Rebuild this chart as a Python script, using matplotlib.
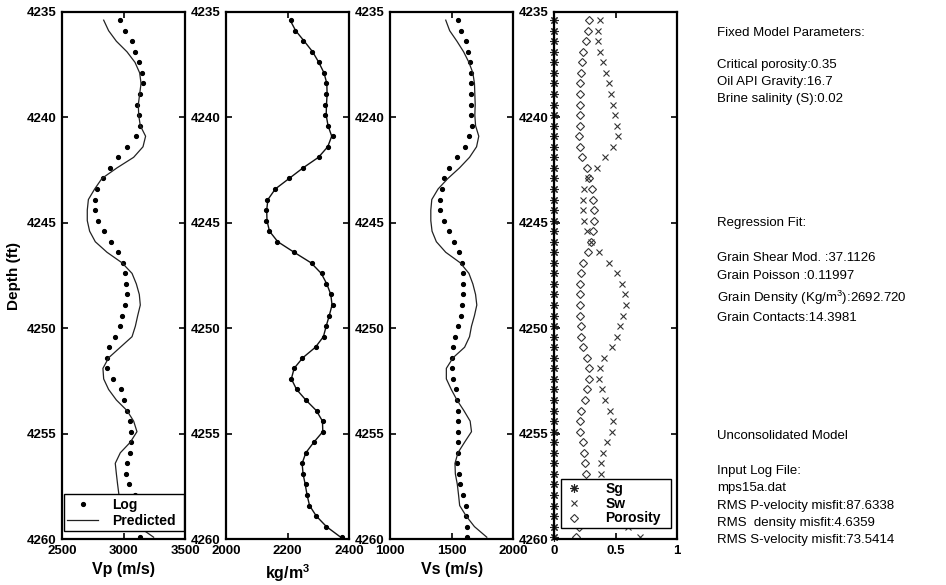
import matplotlib
matplotlib.use("Agg")
import matplotlib.pyplot as plt

plt.rcParams["font.family"] = ["Liberation Sans", "DejaVu Sans"]
plt.rcParams["mathtext.fontset"] = "custom"
plt.rcParams["mathtext.rm"] = "Liberation Sans"
plt.rcParams["mathtext.bf"] = "Liberation Sans:bold"

# depth samples (ft)
depth = [4235.4, 4235.9, 4236.4, 4236.9, 4237.4, 4237.9, 4238.4, 4238.9, 4239.4, 4239.9,
         4240.4, 4240.9, 4241.4, 4241.9, 4242.4, 4242.9, 4243.4, 4243.9, 4244.4, 4244.9,
         4245.4, 4245.9, 4246.4, 4246.9, 4247.4, 4247.9, 4248.4, 4248.9, 4249.4, 4249.9,
         4250.4, 4250.9, 4251.4, 4251.9, 4252.4, 4252.9, 4253.4, 4253.9, 4254.4, 4254.9,
         4255.4, 4255.9, 4256.4, 4256.9, 4257.4, 4257.9, 4258.4, 4258.9, 4259.4, 4259.9]

vp_log = [2968, 3008, 3068, 3089, 3122, 3146, 3154, 3130, 3111, 3122,
          3132, 3097, 3027, 2954, 2892, 2830, 2787, 2765, 2765, 2795,
          2843, 2900, 2954, 2995, 3011, 3019, 3024, 3011, 2989, 2970,
          2932, 2884, 2862, 2865, 2916, 2981, 3003, 3027, 3051, 3060,
          3060, 3051, 3030, 3022, 3041, 3089, 3100, 3110, 3118, 3133]
vp_pred = [2838, 2878, 2941, 3027, 3092, 3130, 3141, 3130, 3119, 3122,
           3135, 3178, 3157, 3081, 2946, 2824, 2765, 2714, 2705, 2705,
           2724, 2770, 2865, 2987, 3068, 3103, 3127, 3135, 3114, 3095,
           3068, 2973, 2878, 2832, 2838, 2878, 2941, 3027, 3081, 3108,
           3054, 2973, 2932, 2941, 2951, 2962, 2973, 3014, 3120, 3243]

rho_log = [2211, 2224, 2251, 2280, 2303, 2317, 2325, 2326, 2321, 2321,
           2330, 2346, 2332, 2303, 2249, 2203, 2158, 2133, 2131, 2131,
           2139, 2165, 2219, 2279, 2311, 2326, 2342, 2346, 2333, 2324,
           2318, 2292, 2248, 2219, 2210, 2230, 2258, 2295, 2316, 2316,
           2286, 2258, 2245, 2251, 2258, 2264, 2270, 2292, 2324, 2375]
rho_pred = [2208, 2226, 2254, 2281, 2301, 2318, 2327, 2328, 2326, 2325,
            2331, 2343, 2330, 2300, 2250, 2205, 2160, 2136, 2132, 2133,
            2141, 2168, 2221, 2276, 2309, 2327, 2340, 2344, 2335, 2325,
            2316, 2290, 2249, 2221, 2212, 2229, 2259, 2293, 2313, 2314,
            2285, 2259, 2247, 2250, 2257, 2263, 2271, 2293, 2326, 2372]

vs_log = [1551, 1578, 1616, 1632, 1645, 1653, 1656, 1656, 1656, 1656,
          1664, 1642, 1610, 1546, 1481, 1441, 1425, 1409, 1409, 1441,
          1481, 1521, 1559, 1586, 1591, 1594, 1594, 1583, 1578, 1554,
          1530, 1513, 1503, 1505, 1513, 1532, 1543, 1551, 1554, 1551,
          1551, 1548, 1546, 1559, 1565, 1591, 1616, 1616, 1621, 1624]
vs_pred = [1452, 1484, 1543, 1597, 1640, 1672, 1685, 1688, 1691, 1688,
           1694, 1720, 1702, 1645, 1564, 1470, 1390, 1339, 1331, 1331,
           1341, 1376, 1452, 1570, 1640, 1672, 1694, 1704, 1685, 1661,
           1645, 1605, 1511, 1457, 1457, 1497, 1543, 1599, 1650, 1661,
           1605, 1551, 1527, 1530, 1546, 1556, 1565, 1618, 1685, 1785]

sg = [0.0] * 50
sw = [0.376, 0.359, 0.359, 0.376, 0.400, 0.424, 0.449, 0.465, 0.481, 0.497,
      0.514, 0.522, 0.481, 0.416, 0.346, 0.278, 0.246, 0.232, 0.232, 0.241,
      0.265, 0.300, 0.368, 0.449, 0.514, 0.551, 0.576, 0.584, 0.559, 0.535,
      0.511, 0.470, 0.408, 0.376, 0.368, 0.389, 0.416, 0.454, 0.478, 0.473,
      0.432, 0.400, 0.384, 0.381, 0.400, 0.430, 0.480, 0.540, 0.600, 0.700]
porosity = [0.284, 0.273, 0.257, 0.238, 0.224, 0.216, 0.211, 0.211, 0.211, 0.211,
            0.211, 0.205, 0.211, 0.227, 0.268, 0.286, 0.305, 0.319, 0.327, 0.324,
            0.319, 0.303, 0.276, 0.232, 0.216, 0.211, 0.211, 0.211, 0.211, 0.216,
            0.216, 0.232, 0.265, 0.281, 0.284, 0.268, 0.249, 0.222, 0.214, 0.214,
            0.232, 0.246, 0.254, 0.257, 0.250, 0.240, 0.230, 0.220, 0.200, 0.176]

depth_ticks = [4235, 4240, 4245, 4250, 4255, 4260]

info_lines = [
    (33, "Fixed Model Parameters:"),
    (65, "Critical porosity:0.35"),
    (82, "Oil API Gravity:16.7"),
    (99, "Brine salinity (S):0.02"),
    (223, "Regression Fit:"),
    (258, "Grain Shear Mod. :37.1126"),
    (276, "Grain Poisson :0.11997"),
    (298, "Grain Density (Kg/m$^3$):2692.720"),
    (318, "Grain Contacts:14.3981"),
    (436, "Unconsolidated Model"),
    (471, "Input Log File:"),
    (488, "mps15a.dat"),
    (506, "RMS P-velocity misfit:87.6338"),
    (523, "RMS  density misfit:4.6359"),
    (540, "RMS S-velocity misfit:73.5414"),
]

W, H = 946, 585
fig = plt.figure(figsize=(W / 100, H / 100), dpi=100)

lefts = [62, 226, 390, 554]
ax_w = 123.3
ax_top, ax_bot = 11.7, 539.3
axes = []
for lx in lefts:
    ax = fig.add_axes([lx / W, 1 - ax_bot / H, ax_w / W, (ax_bot - ax_top) / H])
    axes.append(ax)


def style(ax, xlim, xticks, xlabels, xlabel):
    ax.set_ylim(4260, 4235)
    ax.set_yticks(depth_ticks)
    ax.set_xlim(*xlim)
    ax.set_xticks(xticks)
    ax.set_xticklabels(xlabels)
    ax.tick_params(direction="in", length=4, width=1.2, top=True, right=True,
                   labelsize=9.5, pad=4)
    for lab in ax.get_xticklabels() + ax.get_yticklabels():
        lab.set_fontweight("bold")
    for sp in ax.spines.values():
        sp.set_linewidth(1.6)
    ax.set_xlabel(xlabel, fontsize=11.5, fontweight="bold", labelpad=4)


# Vp
ax = axes[0]
ax.plot(vp_log, depth, "k.", markersize=5.5, label="Log")
ax.plot(vp_pred, depth, color="#222222", lw=0.9, label="Predicted")
style(ax, (2500, 3500), [2500, 3000, 3500], ["2500", "3000", "3500"], "Vp (m/s)")
ax.set_ylabel("Depth (ft)", fontsize=11, fontweight="bold", labelpad=4)
leg = ax.legend(loc="lower left", bbox_to_anchor=(0.015, 0.015, 0.975, 0.068),
                mode="expand", fancybox=False, edgecolor="black", framealpha=1,
                prop={"weight": "bold", "size": 10}, handlelength=2.2,
                borderpad=0.25, labelspacing=0.15, handletextpad=1.0,
                borderaxespad=0)
leg.get_frame().set_linewidth(1.0)

# density
ax = axes[1]
ax.plot(rho_pred, depth, color="#111111", lw=1.0)
ax.plot(rho_log, depth, "k.", markersize=5.5)
style(ax, (2000, 2400), [2000, 2200, 2400], ["2000", "2200", "2400"],
      r"kg/m$^\mathbf{3}$")

# Vs
ax = axes[2]
ax.plot(vs_log, depth, "k.", markersize=5.5)
ax.plot(vs_pred, depth, color="#222222", lw=0.9)
style(ax, (1000, 2000), [1000, 1500, 2000], ["1000", "1500", "2000"], "Vs (m/s)")

# saturations
ax = axes[3]
ax.plot(sg, depth, linestyle="none", marker=(8, 2, 0), markersize=6,
        color="#222222", mew=0.8, label="Sg", clip_on=False)
ax.plot(sw, depth, linestyle="none", marker="x", markersize=4.5,
        color="#333333", mew=0.8, label="Sw")
ax.plot(porosity, depth, linestyle="none", marker="D", markersize=4,
        mfc="none", mec="#333333", mew=0.8, label="Porosity")
style(ax, (0, 1), [0, 0.5, 1], ["0", "0.5", "1"], "")
leg = ax.legend(loc="lower left", bbox_to_anchor=(0.057, 0.021, 0.89, 0.1),
                mode="expand", fancybox=False, edgecolor="black", framealpha=1,
                prop={"weight": "bold", "size": 10}, handlelength=1.5,
                borderpad=0.2, labelspacing=0.05, handletextpad=1.5,
                borderaxespad=0)
leg.get_frame().set_linewidth(1.0)

for y, s in info_lines:
    fig.text(717 / W, 1 - y / H, s, fontsize=9.5, va="center", ha="left")

fig.savefig("out.png", dpi=100)
